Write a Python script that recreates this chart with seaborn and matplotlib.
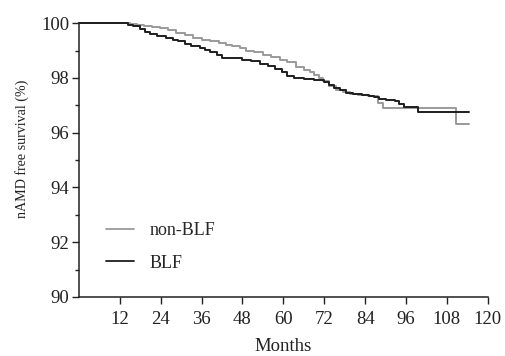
import pandas as pd
import matplotlib.pyplot as plt
import seaborn as sns
from matplotlib.lines import Line2D

# step points (month, survival %)
blf_months = [0, 14.5, 16, 18, 19.5, 21, 23, 25.5, 27.5, 29, 31, 33, 35.5, 37, 38.5,
              40.5, 42, 45, 48, 50.5, 53, 55.5, 57.5, 59.5, 61, 63, 66, 69, 72, 73.5,
              75, 76.5, 78.5, 80.5, 83, 85, 86.5, 88, 90, 92.7, 94, 95.5, 99.5, 114.6]
blf_surv = [100, 99.95, 99.9, 99.8, 99.69, 99.6, 99.52, 99.47, 99.4, 99.33, 99.25, 99.17,
            99.09, 99.02, 98.96, 98.85, 98.74, 98.72, 98.66, 98.6, 98.5, 98.42, 98.33,
            98.2, 98.08, 98.0, 97.97, 97.93, 97.85, 97.75, 97.64, 97.54, 97.46, 97.41,
            97.38, 97.33, 97.29, 97.23, 97.2, 97.14, 97.05, 96.93, 96.77, 96.77]

non_months = [0, 15, 17, 19, 21.5, 23.7, 26, 28.6, 31, 33.5, 36, 38.4, 41, 43.3, 45, 47.2,
              49, 51.5, 54, 56.5, 58.9, 61, 63.8, 66, 67.7, 69, 70.5, 71.6, 73.5, 75.5,
              77.5, 79.5, 82, 84.8, 87.7, 89.2, 110.8, 114.6]
non_surv = [100, 99.97, 99.94, 99.91, 99.87, 99.82, 99.74, 99.64, 99.55, 99.45, 99.38,
            99.33, 99.27, 99.21, 99.15, 99.09, 98.99, 98.93, 98.84, 98.76, 98.66, 98.58,
            98.38, 98.28, 98.2, 98.1, 97.98, 97.87, 97.72, 97.57, 97.48, 97.42, 97.36,
            97.33, 97.08, 96.9, 96.33, 96.33]

x_ticks = [12, 24, 36, 48, 60, 72, 84, 96, 108, 120]
y_ticks = [90, 92, 94, 96, 98, 100]

df = pd.concat([
    pd.DataFrame({'month': non_months, 'survival': non_surv, 'group': 'non-BLF'}),
    pd.DataFrame({'month': blf_months, 'survival': blf_surv, 'group': 'BLF'}),
], ignore_index=True)

sns.set_style('ticks')
plt.rcParams['font.family'] = ['Liberation Serif', 'DejaVu Serif']

colors = {'non-BLF': '#9a9a9a', 'BLF': '#1e1e1e'}

fig, ax = plt.subplots(figsize=(5.06, 3.56), dpi=100)
fig.subplots_adjust(left=0.156, right=0.964, top=0.935, bottom=0.166)

sns.lineplot(data=df, x='month', y='survival', hue='group', palette=colors,
             estimator=None, sort=False, drawstyle='steps-post', linewidth=1.4,
             legend=False, ax=ax)
for ln in ax.lines:
    ln.set_clip_on(False)

ax.set_xlim(0, 120)
ax.set_ylim(90, 100)
ax.set_xticks(x_ticks)
ax.set_yticks(y_ticks)
ax.set_yticks([91, 93, 95, 97, 99], minor=True)
ax.tick_params(axis='x', labelsize=13.5, length=5, width=1, pad=5, colors='#222')
ax.tick_params(axis='y', labelsize=13.5, length=5, width=1, pad=2, colors='#222')
ax.tick_params(axis='y', which='minor', length=3, width=1, colors='#222')
sns.despine(ax=ax)
for s in ['left', 'bottom']:
    ax.spines[s].set_linewidth(1.1)
    ax.spines[s].set_color('#222')

ax.set_xlabel('Months', fontsize=13.5, labelpad=7.5, color='#222')
ax.set_ylabel('nAMD free survival (%)', fontsize=10.1, color='#222')
ax.yaxis.set_label_coords(-0.122, 0.54)

handles = [Line2D([0], [0], color=colors[g], lw=1.3) for g in ['non-BLF', 'BLF']]
ax.legend(handles, ['non-BLF', 'BLF'], loc='upper left', bbox_to_anchor=(0.065, 0.272),
          frameon=False, fontsize=13, handlelength=1.6, handletextpad=0.85,
          labelspacing=0.85, borderpad=0, borderaxespad=0)

plt.savefig('out.png', dpi=100)
